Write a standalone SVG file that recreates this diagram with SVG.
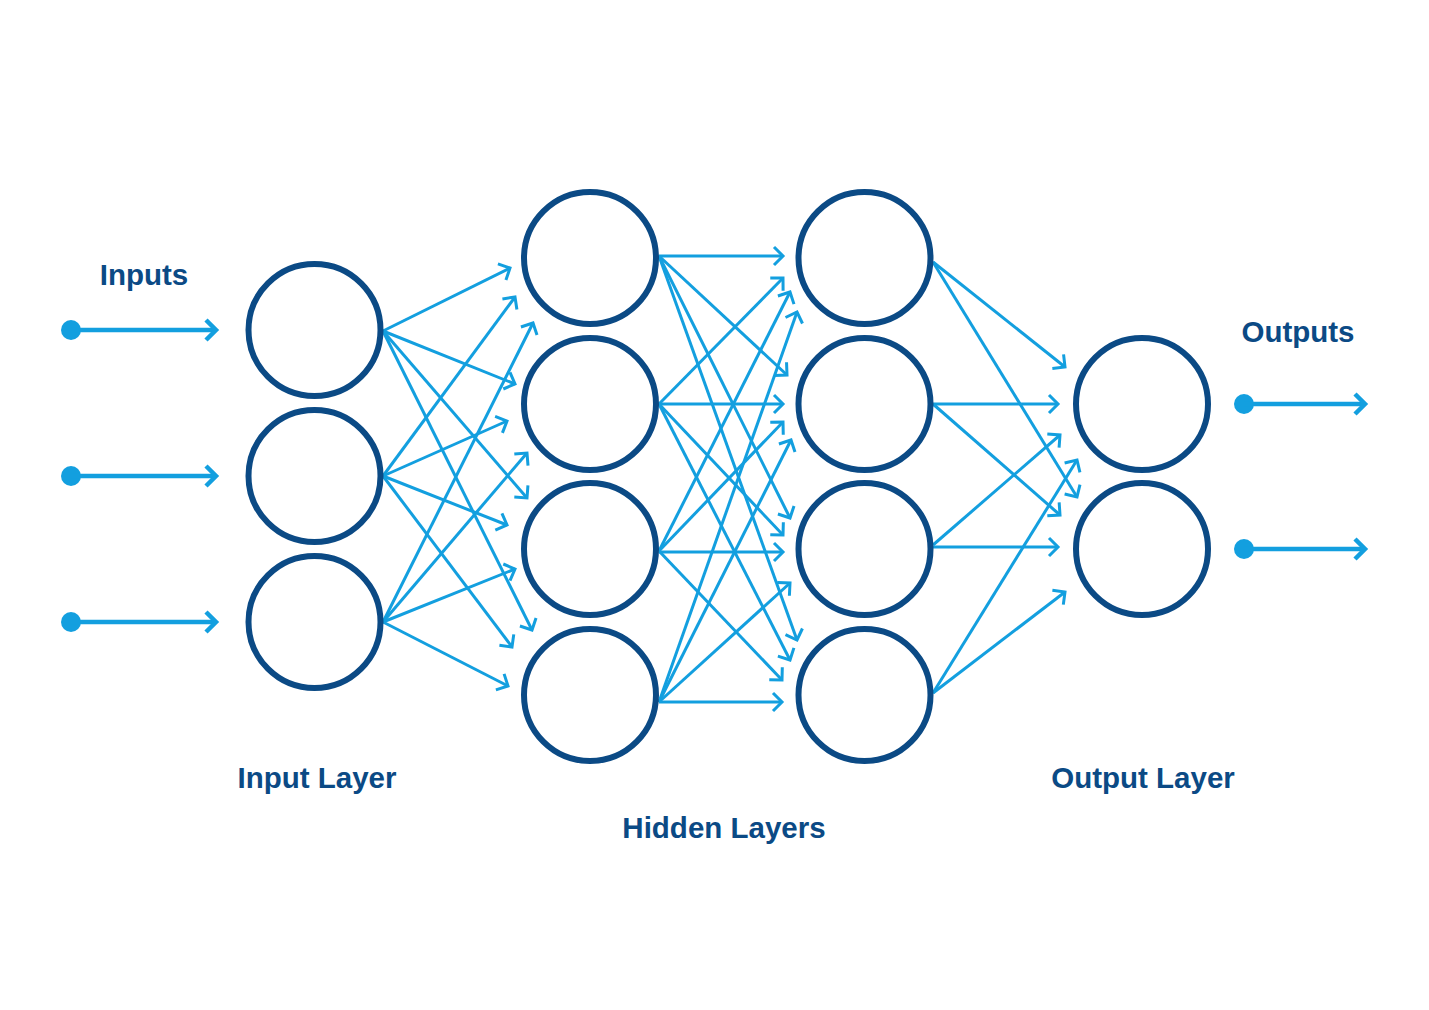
<svg xmlns="http://www.w3.org/2000/svg" width="1429" height="1010" viewBox="0 0 1429 1010">
<style>
.node circle{fill:#ffffff;stroke:#0b4a85;stroke-width:6}
.lbl{font-family:"Liberation Sans",Arial,sans-serif;font-weight:bold;font-size:29.5px;fill:#0b4a85;text-anchor:middle}
.io{stroke:#139fdf;stroke-width:4.5;fill:none;marker-end:url(#big)}
.dot{fill:#139fdf}
.c line{stroke:#139fdf;stroke-width:3;fill:none;marker-end:url(#small)}
</style>
<defs>
<marker id="big" markerUnits="userSpaceOnUse" viewBox="-14 -14 18 28" refX="0" refY="0" markerWidth="18" markerHeight="28" orient="auto" overflow="visible">
<path d="M-10,-10 L0,0 L-10,10" fill="none" stroke="#139fdf" stroke-width="4.5"/>
</marker>
<marker id="small" markerUnits="userSpaceOnUse" viewBox="-12 -12 16 24" refX="0" refY="0" markerWidth="16" markerHeight="24" orient="auto" overflow="visible">
<path d="M-9,-9 L0,0 L-9,9" fill="none" stroke="#139fdf" stroke-width="3"/>
</marker>
</defs>
<rect width="1429" height="1010" fill="#ffffff"/>

<g id="connectors" class="c">
<line x1="383" y1="331" x2="510" y2="268"/>
<line x1="383" y1="331" x2="515" y2="384"/>
<line x1="383" y1="331" x2="527" y2="498"/>
<line x1="383" y1="331" x2="532" y2="630"/>
<line x1="383" y1="476" x2="515" y2="297"/>
<line x1="383" y1="476" x2="507" y2="421"/>
<line x1="383" y1="476" x2="507" y2="525"/>
<line x1="383" y1="476" x2="512" y2="647"/>
<line x1="383" y1="622" x2="533" y2="323"/>
<line x1="383" y1="622" x2="527" y2="453"/>
<line x1="383" y1="622" x2="515" y2="569"/>
<line x1="383" y1="622" x2="508" y2="686"/>

<line x1="659" y1="256" x2="783" y2="256"/>
<line x1="659" y1="256" x2="787" y2="375"/>
<line x1="659" y1="256" x2="790" y2="518"/>
<line x1="659" y1="256" x2="797" y2="640"/>
<line x1="659" y1="404" x2="783" y2="278"/>
<line x1="659" y1="404" x2="783" y2="404"/>
<line x1="659" y1="404" x2="783" y2="535"/>
<line x1="659" y1="404" x2="790" y2="660"/>
<line x1="659" y1="551" x2="790" y2="292"/>
<line x1="659" y1="551" x2="783" y2="422"/>
<line x1="659" y1="552" x2="783" y2="552"/>
<line x1="659" y1="551" x2="782" y2="680"/>
<line x1="659" y1="702" x2="797" y2="312"/>
<line x1="659" y1="702" x2="791" y2="440"/>
<line x1="659" y1="702" x2="790" y2="583"/>
<line x1="659" y1="702" x2="782" y2="702"/>

<line x1="933" y1="262" x2="1065" y2="367"/>
<line x1="933" y1="262" x2="1077" y2="497"/>
<line x1="933" y1="404" x2="1058" y2="404"/>
<line x1="933" y1="404" x2="1060" y2="515"/>
<line x1="933" y1="545" x2="1060" y2="435"/>
<line x1="933" y1="547" x2="1058" y2="547"/>
<line x1="933" y1="693" x2="1077" y2="460"/>
<line x1="933" y1="693" x2="1065" y2="592"/>
</g>

<g id="inputs-arrows">
<circle class="dot" cx="71" cy="330" r="10"/><line class="io" x1="71" y1="330" x2="216" y2="330"/>
<circle class="dot" cx="71" cy="476" r="10"/><line class="io" x1="71" y1="476" x2="216" y2="476"/>
<circle class="dot" cx="71" cy="622" r="10"/><line class="io" x1="71" y1="622" x2="216" y2="622"/>
</g>
<g id="outputs-arrows">
<circle class="dot" cx="1244" cy="404" r="10"/><line class="io" x1="1244" y1="404" x2="1365" y2="404"/>
<circle class="dot" cx="1244" cy="549" r="10"/><line class="io" x1="1244" y1="549" x2="1365" y2="549"/>
</g>

<g id="in1" class="node"><circle cx="314.5" cy="330" r="66"/></g>
<g id="in2" class="node"><circle cx="314.5" cy="476" r="66"/></g>
<g id="in3" class="node"><circle cx="314.5" cy="622" r="66"/></g>
<g id="h1n1" class="node"><circle cx="590" cy="258" r="66"/></g>
<g id="h1n2" class="node"><circle cx="590" cy="404" r="66"/></g>
<g id="h1n3" class="node"><circle cx="590" cy="549" r="66"/></g>
<g id="h1n4" class="node"><circle cx="590" cy="695" r="66"/></g>
<g id="h2n1" class="node"><circle cx="864.5" cy="258" r="66"/></g>
<g id="h2n2" class="node"><circle cx="864.5" cy="404" r="66"/></g>
<g id="h2n3" class="node"><circle cx="864.5" cy="549" r="66"/></g>
<g id="h2n4" class="node"><circle cx="864.5" cy="695" r="66"/></g>
<g id="out1" class="node"><circle cx="1142" cy="404" r="66"/></g>
<g id="out2" class="node"><circle cx="1142" cy="549" r="66"/></g>

<g id="labels">
<text class="lbl" x="144" y="285">Inputs</text>
<text class="lbl" x="1298" y="342">Outputs</text>
<text class="lbl" x="317" y="788">Input Layer</text>
<text class="lbl" x="724" y="838">Hidden Layers</text>
<text class="lbl" x="1143" y="788">Output Layer</text>
</g>
</svg>
